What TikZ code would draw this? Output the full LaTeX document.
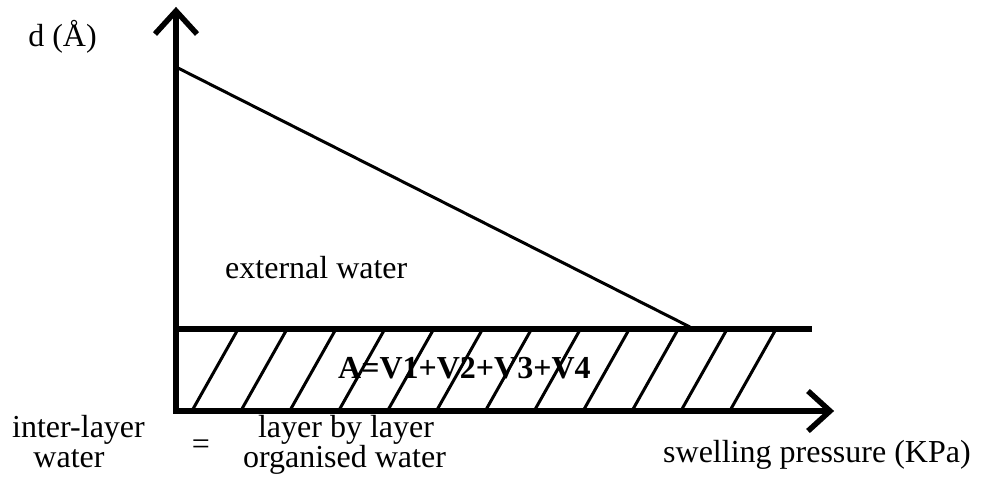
\documentclass[tikz,border=0pt]{standalone}
\usepackage{fontspec}
\setmainfont{Liberation Serif}
\begin{document}
\begin{tikzpicture}[x=1pt,y=-1pt,
  axis/.style={line width=5.5pt,line cap=butt},
  head/.style={line width=5.5pt,line join=miter,line cap=butt},
  thin/.style={line width=3pt},
  lbl/.style={inner sep=0pt,font=\fontsize{32}{36}\selectfont}]
\useasboundingbox (0,0) rectangle (981,485);
% axes
\draw[axis] (176,411) -- (176,14);
\draw[head] (155,34) -- (176,11) -- (197,34);
\draw[axis] (173.25,411) -- (828,411);
\draw[head] (808,391) -- (830,411) -- (808,431);
% upper boundary line
\draw[line width=6pt] (176,329) -- (812,329);
% diagonal line
\draw[thin] (176,67) -- (690,327);
% hatching
\foreach \k in {0,...,11} {
  \pgfmathsetmacro{\xt}{237+48.9*\k}
  \draw[thin] (\xt-44,409) -- (\xt,331);
}
% labels
\node[lbl,anchor=base] (d) at (62.5,46) {d (Å)};
\node[lbl,anchor=base west] (ext) at (225,278) {external water};
\node[lbl,anchor=base west,font=\fontsize{32}{36}\selectfont\bfseries] (A) at (338,378) {A=V1+V2+V3+V4};
\node[lbl,anchor=base west] (sp) at (663,462) {swelling pressure (KPa)};
\node[lbl,anchor=base] (il1) at (78.5,437) {inter-layer};
\node[lbl,anchor=base] (il2) at (69,467) {water};
\node[lbl,anchor=center] (eq) at (201,447) {=};
\node[lbl,anchor=base] (lb1) at (346,437) {layer by layer};
\node[lbl,anchor=base] (lb2) at (344.5,467) {organised water};
\end{tikzpicture}
\end{document}
